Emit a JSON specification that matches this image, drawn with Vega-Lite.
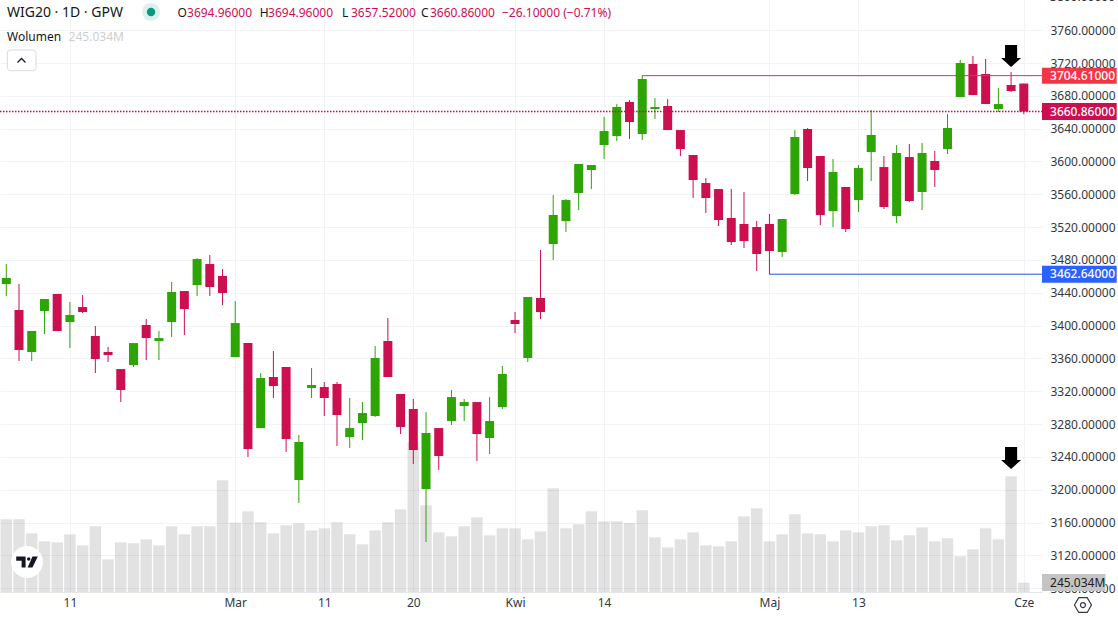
{"$schema":"https://vega.github.io/schema/vega-lite/v6.json","width":1042,"height":592,"autosize":{"type":"none"},"padding":{"left":0,"top":0,"right":76,"bottom":26},"background":"#ffffff","config":{"view":{"stroke":null},"font":"Noto Sans"},
"datasets":{"candles":[
{"bar":0,"o":3450.6,"h":3475.0,"l":3436.0,"c":3458.0,"v":1895,"dir":"up"},
{"bar":1,"o":3419.0,"h":3450.6,"l":3356.8,"c":3370.2,"v":1895,"dir":"down"},
{"bar":2,"o":3367.8,"h":3393.4,"l":3356.8,"c":3393.4,"v":1530,"dir":"up"},
{"bar":3,"o":3417.7,"h":3432.4,"l":3389.7,"c":3432.4,"v":1322,"dir":"up"},
{"bar":4,"o":3438.5,"h":3438.5,"l":3393.4,"c":3393.4,"v":1296,"dir":"down"},
{"bar":5,"o":3404.3,"h":3428.7,"l":3372.6,"c":3412.9,"v":1504,"dir":"up"},
{"bar":6,"o":3422.6,"h":3437.2,"l":3415.3,"c":3416.5,"v":1217,"dir":"down"},
{"bar":7,"o":3387.3,"h":3399.5,"l":3342.2,"c":3359.2,"v":1713,"dir":"down"},
{"bar":8,"o":3367.8,"h":3373.9,"l":3355.6,"c":3364.1,"v":852,"dir":"down"},
{"bar":9,"o":3347.0,"h":3347.0,"l":3306.8,"c":3321.5,"v":1296,"dir":"down"},
{"bar":10,"o":3351.9,"h":3378.7,"l":3349.5,"c":3378.7,"v":1270,"dir":"up"},
{"bar":11,"o":3400.7,"h":3408.0,"l":3358.0,"c":3384.8,"v":1374,"dir":"down"},
{"bar":12,"o":3381.2,"h":3393.4,"l":3358.0,"c":3384.8,"v":1217,"dir":"up"},
{"bar":13,"o":3404.3,"h":3453.1,"l":3386.0,"c":3440.9,"v":1713,"dir":"up"},
{"bar":14,"o":3442.1,"h":3442.1,"l":3388.5,"c":3420.2,"v":1504,"dir":"down"},
{"bar":15,"o":3449.4,"h":3482.3,"l":3436.0,"c":3481.1,"v":1713,"dir":"up"},
{"bar":16,"o":3475.0,"h":3486.0,"l":3436.0,"c":3447.0,"v":1713,"dir":"down"},
{"bar":17,"o":3460.4,"h":3468.9,"l":3425.0,"c":3439.7,"v":2912,"dir":"down"},
{"bar":18,"o":3361.7,"h":3429.9,"l":3361.7,"c":3403.1,"v":1809,"dir":"up"},
{"bar":19,"o":3378.7,"h":3378.7,"l":3239.8,"c":3249.5,"v":2104,"dir":"down"},
{"bar":20,"o":3275.1,"h":3342.2,"l":3275.1,"c":3336.1,"v":1817,"dir":"up"},
{"bar":21,"o":3337.3,"h":3369.0,"l":3311.7,"c":3326.3,"v":1530,"dir":"down"},
{"bar":22,"o":3349.5,"h":3349.5,"l":3245.9,"c":3261.7,"v":1739,"dir":"down"},
{"bar":23,"o":3211.8,"h":3266.6,"l":3183.7,"c":3258.1,"v":1791,"dir":"up"},
{"bar":24,"o":3323.9,"h":3348.3,"l":3311.7,"c":3327.6,"v":1608,"dir":"up"},
{"bar":25,"o":3325.1,"h":3331.2,"l":3289.8,"c":3311.7,"v":1661,"dir":"down"},
{"bar":26,"o":3328.8,"h":3331.2,"l":3253.2,"c":3291.0,"v":1817,"dir":"down"},
{"bar":27,"o":3264.2,"h":3311.7,"l":3250.8,"c":3275.1,"v":1504,"dir":"up"},
{"bar":28,"o":3281.2,"h":3306.8,"l":3260.5,"c":3293.4,"v":1244,"dir":"up"},
{"bar":29,"o":3289.8,"h":3375.1,"l":3288.6,"c":3360.5,"v":1608,"dir":"up"},
{"bar":30,"o":3381.2,"h":3409.2,"l":3337.3,"c":3337.3,"v":1817,"dir":"down"},
{"bar":31,"o":3316.6,"h":3316.6,"l":3267.8,"c":3276.4,"v":2156,"dir":"down"},
{"bar":32,"o":3298.3,"h":3310.5,"l":3231.3,"c":3248.3,"v":3910,"dir":"down"},
{"bar":33,"o":3200.8,"h":3294.6,"l":3136.2,"c":3269.1,"v":2260,"dir":"up"},
{"bar":34,"o":3275.1,"h":3275.1,"l":3224.0,"c":3241.0,"v":1556,"dir":"down"},
{"bar":35,"o":3283.7,"h":3321.5,"l":3278.8,"c":3312.9,"v":1452,"dir":"up"},
{"bar":36,"o":3302.0,"h":3310.5,"l":3283.7,"c":3306.8,"v":1713,"dir":"up"},
{"bar":37,"o":3306.8,"h":3306.8,"l":3234.9,"c":3267.8,"v":1947,"dir":"down"},
{"bar":38,"o":3263.0,"h":3312.9,"l":3243.5,"c":3283.7,"v":1478,"dir":"up"},
{"bar":39,"o":3300.7,"h":3350.7,"l":3298.3,"c":3341.0,"v":1661,"dir":"up"},
{"bar":40,"o":3406.8,"h":3416.5,"l":3390.9,"c":3401.9,"v":1661,"dir":"down"},
{"bar":41,"o":3360.5,"h":3434.8,"l":3355.6,"c":3434.8,"v":1374,"dir":"up"},
{"bar":42,"o":3433.6,"h":3492.1,"l":3408.0,"c":3416.5,"v":1582,"dir":"down"},
{"bar":43,"o":3499.4,"h":3559.1,"l":3479.9,"c":3534.8,"v":2703,"dir":"up"},
{"bar":44,"o":3527.4,"h":3554.3,"l":3514.0,"c":3553.0,"v":1661,"dir":"up"},
{"bar":45,"o":3561.6,"h":3596.9,"l":3540.8,"c":3596.9,"v":1765,"dir":"up"},
{"bar":46,"o":3589.6,"h":3595.7,"l":3566.4,"c":3595.7,"v":2104,"dir":"up"},
{"bar":47,"o":3620.1,"h":3654.2,"l":3603.0,"c":3637.1,"v":1843,"dir":"up"},
{"bar":48,"o":3631.0,"h":3670.0,"l":3624.9,"c":3666.4,"v":1843,"dir":"up"},
{"bar":49,"o":3672.5,"h":3674.9,"l":3627.4,"c":3648.1,"v":1799,"dir":"down"},
{"bar":50,"o":3633.5,"h":3704.61,"l":3626.2,"c":3700.5,"v":2130,"dir":"up"},
{"bar":51,"o":3663.9,"h":3677.3,"l":3651.8,"c":3666.4,"v":1426,"dir":"up"},
{"bar":52,"o":3667.6,"h":3676.1,"l":3638.3,"c":3638.3,"v":1165,"dir":"down"},
{"bar":53,"o":3638.3,"h":3638.3,"l":3606.7,"c":3615.2,"v":1374,"dir":"down"},
{"bar":54,"o":3607.9,"h":3607.9,"l":3555.5,"c":3577.4,"v":1556,"dir":"down"},
{"bar":55,"o":3573.8,"h":3579.8,"l":3537.2,"c":3555.5,"v":1217,"dir":"down"},
{"bar":56,"o":3566.4,"h":3566.4,"l":3521.3,"c":3528.7,"v":1191,"dir":"down"},
{"bar":57,"o":3531.1,"h":3566.4,"l":3498.2,"c":3501.8,"v":1322,"dir":"down"},
{"bar":58,"o":3523.8,"h":3562.8,"l":3494.5,"c":3503.1,"v":1973,"dir":"down"},
{"bar":59,"o":3520.1,"h":3527.4,"l":3466.5,"c":3487.2,"v":2182,"dir":"down"},
{"bar":60,"o":3523.8,"h":3536.0,"l":3462.64,"c":3490.9,"v":1322,"dir":"down"},
{"bar":61,"o":3489.7,"h":3529.9,"l":3483.6,"c":3529.9,"v":1504,"dir":"up"},
{"bar":62,"o":3560.3,"h":3638.3,"l":3559.1,"c":3629.8,"v":2026,"dir":"up"},
{"bar":63,"o":3639.6,"h":3640.8,"l":3576.2,"c":3592.0,"v":1530,"dir":"down"},
{"bar":64,"o":3606.7,"h":3606.7,"l":3522.6,"c":3534.7,"v":1504,"dir":"down"},
{"bar":65,"o":3539.6,"h":3603.0,"l":3520.1,"c":3587.2,"v":1322,"dir":"up"},
{"bar":66,"o":3568.9,"h":3568.9,"l":3514.0,"c":3517.7,"v":1608,"dir":"down"},
{"bar":67,"o":3553.0,"h":3595.7,"l":3538.4,"c":3592.0,"v":1556,"dir":"up"},
{"bar":68,"o":3611.5,"h":3662.7,"l":3576.2,"c":3632.3,"v":1713,"dir":"up"},
{"bar":69,"o":3593.2,"h":3606.7,"l":3542.1,"c":3544.5,"v":1739,"dir":"down"},
{"bar":70,"o":3533.5,"h":3620.1,"l":3525.0,"c":3610.3,"v":1348,"dir":"up"},
{"bar":71,"o":3605.4,"h":3621.3,"l":3550.6,"c":3551.8,"v":1478,"dir":"down"},
{"bar":72,"o":3562.8,"h":3622.5,"l":3540.8,"c":3610.3,"v":1687,"dir":"up"},
{"bar":73,"o":3600.6,"h":3612.8,"l":3568.9,"c":3589.6,"v":1322,"dir":"down"},
{"bar":74,"o":3615.2,"h":3657.8,"l":3609.1,"c":3640.8,"v":1400,"dir":"up"},
{"bar":75,"o":3678.6,"h":3723.7,"l":3678.6,"c":3720.0,"v":931,"dir":"up"},
{"bar":76,"o":3718.8,"h":3728.5,"l":3681.0,"c":3681.0,"v":1113,"dir":"down"},
{"bar":77,"o":3706.6,"h":3724.9,"l":3670.0,"c":3670.0,"v":1661,"dir":"down"},
{"bar":78,"o":3663.9,"h":3689.5,"l":3660.3,"c":3670.0,"v":1374,"dir":"up"},
{"bar":79,"o":3693.2,"h":3709.0,"l":3684.7,"c":3685.9,"v":3016,"dir":"down"},
{"bar":80,"o":3694.96,"h":3694.96,"l":3657.52,"c":3660.86,"v":245.034,"dir":"down"}
]},
"resolve":{"scale":{"y":"independent"}},
"layer":[
{"layer":[
{"data":{"name":"candles"},"mark":{"type":"bar","orient":"vertical","size":11.5,"fill":"#000000","fillOpacity":0.115},
 "encoding":{"x":{"field":"bar","type":"quantitative","scale":{"domain":[-0.495,81.43],"nice":false,"zero":false,"padding":0},
   "axis":{"orient":"bottom","title":null,"values":[5,18,25,32,40,47,60,67,80],"tickCount":30,"labelExpr":"{'5':'11','18':'Mar','25':'11','32':'20','40':'Kwi','47':'14','60':'Maj','67':'13','80':'Cze'}[datum.value]","labelOverlap":false,"labelBound":false,"labelFlush":false,"grid":true,"gridColor":"#f2f3f6","gridWidth":1,"ticks":false,"domain":true,"domainColor":"#e4e6ec","labelColor":"#333842","labelFont":"Noto Sans","labelFontSize":12,"labelPadding":5}},
  "y":{"field":"v","type":"quantitative","scale":{"domain":[0,15433],"nice":false,"zero":false},"axis":null},
  "y2":{"datum":0}}},
{"data":{"values":[{"label":"245.034M","vol":245.034}]},"mark":{"type":"rule","strokeWidth":17,"color":"#c4c4c4","strokeCap":"butt"},
 "encoding":{"x":{"datum":81.43,"type":"quantitative"},"x2":{"datum":86.42},"y":{"field":"vol","type":"quantitative"}}},
{"data":{"values":[{"label":"245.034M","vol":245.034}]},"mark":{"type":"text","align":"left","baseline":"middle","font":"Noto Sans","fontSize":12,"color":"#222222"},
 "encoding":{"x":{"datum":82.06,"type":"quantitative"},"y":{"field":"vol","type":"quantitative"},"text":{"field":"label"}}}
]},
{"layer":[
{"data":{"name":"candles"},"mark":{"type":"rule","strokeWidth":1},
 "encoding":{"x":{"field":"bar","type":"quantitative"},
  "y":{"field":"l","type":"quantitative","scale":{"domain":[3075.3,3796.8],"nice":false,"zero":false},
   "axis":{"orient":"right","title":null,"values":[3080,3120,3160,3200,3240,3280,3320,3360,3400,3440,3480,3520,3560,3600,3640,3680,3720,3760],"tickCount":40,"format":".5f","grid":true,"gridColor":"#f2f3f6","gridWidth":1,"ticks":false,"domain":false,"labelColor":"#333842","labelFont":"Noto Sans","labelFontSize":12,"labelPadding":8,"labelOverlap":false,"labelBound":false,"labelFlush":false}},
  "y2":{"field":"h"},
  "color":{"field":"dir","type":"nominal","scale":{"domain":["up","down"],"range":["#2da505","#cc0f4f"]},"legend":null}}},
{"data":{"name":"candles"},"mark":{"type":"bar","orient":"vertical","size":9},
 "encoding":{"x":{"field":"bar","type":"quantitative"},"y":{"field":"o","type":"quantitative"},"y2":{"field":"c"},
  "color":{"field":"dir","type":"nominal","legend":null}}},
{"data":{"values":[{"t":"3800.00000"}]},"mark":{"type":"text","align":"left","baseline":"middle","font":"Noto Sans","fontSize":12,"color":"#333842"},
 "encoding":{"x":{"datum":82.06,"type":"quantitative"},"y":{"datum":3800,"type":"quantitative"},"text":{"field":"t"}}},
{"data":{"values":[{"price":3704.61,"from":50,"label":"3704.61000"}]},"mark":{"type":"rule","strokeWidth":1,"color":"#e8303f"},
 "encoding":{"x":{"field":"from","type":"quantitative"},"x2":{"datum":81.43},"y":{"field":"price","type":"quantitative"}}},
{"data":{"values":[{"price":3462.64,"from":60,"label":"3462.64000"}]},"mark":{"type":"rule","strokeWidth":1,"color":"#2054e0"},
 "encoding":{"x":{"field":"from","type":"quantitative"},"x2":{"datum":81.43},"y":{"field":"price","type":"quantitative"}}},
{"data":{"values":[{"price":3660.86,"from":-0.495,"label":"3660.86000"}]},"mark":{"type":"rule","strokeWidth":1.4,"color":"#d8004f","strokeDash":[1.5,1.5]},
 "encoding":{"x":{"field":"from","type":"quantitative"},"x2":{"datum":81.43},"y":{"field":"price","type":"quantitative"}}},
{"data":{"values":[{"price":3704.61,"label":"3704.61000"}]},"mark":{"type":"rule","strokeWidth":16,"color":"#f23645","strokeCap":"butt"},
 "encoding":{"x":{"datum":81.43,"type":"quantitative"},"x2":{"datum":87.3},"y":{"field":"price","type":"quantitative"}}},
{"data":{"values":[{"price":3660.86,"label":"3660.86000"}]},"mark":{"type":"rule","strokeWidth":17,"color":"#cc0f4f","strokeCap":"butt"},
 "encoding":{"x":{"datum":81.43,"type":"quantitative"},"x2":{"datum":87.3},"y":{"field":"price","type":"quantitative"}}},
{"data":{"values":[{"price":3462.64,"label":"3462.64000"}]},"mark":{"type":"rule","strokeWidth":17,"color":"#2962ff","strokeCap":"butt"},
 "encoding":{"x":{"datum":81.43,"type":"quantitative"},"x2":{"datum":87.3},"y":{"field":"price","type":"quantitative"}}},
{"data":{"values":[{"price":3704.61,"label":"3704.61000"},{"price":3660.86,"label":"3660.86000"},{"price":3462.64,"label":"3462.64000"}]},"mark":{"type":"text","align":"left","baseline":"middle","font":"Noto Sans","fontSize":12,"fontWeight":500,"color":"#ffffff"},
 "encoding":{"x":{"datum":82.06,"type":"quantitative"},"y":{"field":"price","type":"quantitative"},"text":{"field":"label"}}},
{"data":{"values":[{"bar":79,"price":3728.5},{"bar":79,"price":3238.6}]},"mark":{"type":"point","shape":"M-0.55,-1H0.55V0.18H0.91L0,1L-0.91,0.18H-0.55Z","size":484,"filled":true,"fill":"#000000","opacity":1},
 "encoding":{"x":{"field":"bar","type":"quantitative"},"y":{"field":"price","type":"quantitative"}}},
{"data":{"values":[{"m":"logo"}]},"mark":{"type":"point","shape":"circle","size":1024,"filled":true,"fill":"#ffffff","opacity":1},
 "encoding":{"x":{"datum":1.63,"type":"quantitative"},"y":{"datum":3111.8,"type":"quantitative"}}},
{"data":{"values":[{"m":"logo"}]},"mark":{"type":"point","shape":"M-0.9,-0.46H-0.12V0.46H-0.45V-0.1H-0.9ZM0.45,-0.46H0.9L0.45,0.46H0.05ZM0.28,-0.25A0.14,0.14 0 1 1 0,-0.25A0.14,0.14 0 1 1 0.28,-0.25Z","size":576,"filled":true,"fill":"#131722","opacity":1},
 "encoding":{"x":{"datum":1.63,"type":"quantitative"},"y":{"datum":3111.8,"type":"quantitative"}}},
{"data":{"values":[{"m":"button"}]},"mark":{"type":"rect","fill":"#ffffff","stroke":"#d8dae0","strokeWidth":1,"cornerRadius":3},
 "encoding":{"x":{"datum":0.079,"type":"quantitative"},"x2":{"datum":2.335},"y":{"datum":3735.9,"type":"quantitative"},"y2":{"datum":3710.6}}},
{"data":{"values":[{"m":"button"}]},"mark":{"type":"point","shape":"M-1,0.5L0,-0.5L1,0.5","size":64,"filled":false,"stroke":"#131722","strokeWidth":1.2,"opacity":1},
 "encoding":{"x":{"datum":1.195,"type":"quantitative"},"y":{"datum":3723.1,"type":"quantitative"}}},
{"data":{"values":[{"m":"status"}]},"mark":{"type":"point","shape":"circle","size":324,"filled":true,"fill":"#089981","opacity":0.14},
 "encoding":{"x":{"datum":11.38,"type":"quantitative"},"y":{"datum":3782.2,"type":"quantitative"}}},
{"data":{"values":[{"m":"status"}]},"mark":{"type":"point","shape":"circle","size":70,"filled":true,"fill":"#089981","opacity":1},
 "encoding":{"x":{"datum":11.38,"type":"quantitative"},"y":{"datum":3782.2,"type":"quantitative"}}},
{"data":{"values":[{"m":"gear"}]},"mark":{"type":"point","shape":"M-1,0L-0.5,-0.87L0.5,-0.87L1,0L0.5,0.87L-0.5,0.87Z","size":289,"filled":false,"stroke":"#333842","strokeWidth":1.2,"opacity":1},
 "encoding":{"x":{"datum":84.65,"type":"quantitative"},"y":{"datum":3059.4,"type":"quantitative"}}},
{"data":{"values":[{"m":"gear"}]},"mark":{"type":"point","shape":"circle","size":25,"filled":false,"stroke":"#333842","strokeWidth":1.2,"opacity":1},
 "encoding":{"x":{"datum":84.65,"type":"quantitative"},"y":{"datum":3059.4,"type":"quantitative"}}},
{"data":{"values":[{"t":"WIG20 · 1D · GPW"}]},"mark":{"type":"text","align":"left","baseline":"middle","font":"Noto Sans","fontSize":14,"color":"#131722"},
 "encoding":{"x":{"datum":0.055,"type":"quantitative"},"y":{"datum":3781,"type":"quantitative"},"text":{"field":"t"}}},
{"data":{"values":[{"t":"Wolumen"}]},"mark":{"type":"text","align":"left","baseline":"middle","font":"Noto Sans","fontSize":12,"color":"#131722"},
 "encoding":{"x":{"datum":0.055,"type":"quantitative"},"y":{"datum":3752.1,"type":"quantitative"},"text":{"field":"t"}}},
{"data":{"values":[{"t":"245.034M"}]},"mark":{"type":"text","align":"left","baseline":"middle","font":"Noto Sans","fontSize":12,"color":"#cfcfcf"},
 "encoding":{"x":{"datum":4.9,"type":"quantitative"},"y":{"datum":3752.1,"type":"quantitative"},"text":{"field":"t"}}},
{"data":{"values":[{"t":"O"}]},"mark":{"type":"text","align":"left","baseline":"middle","font":"Noto Sans","fontSize":12,"color":"#131722"},
 "encoding":{"x":{"datum":13.46,"type":"quantitative"},"y":{"datum":3781,"type":"quantitative"},"text":{"field":"t"}}},
{"data":{"values":[{"t":"3694.96000"}]},"mark":{"type":"text","align":"left","baseline":"middle","font":"Noto Sans","fontSize":12,"color":"#cc0f4f"},
 "encoding":{"x":{"datum":14.21,"type":"quantitative"},"y":{"datum":3781,"type":"quantitative"},"text":{"field":"t"}}},
{"data":{"values":[{"t":"H"}]},"mark":{"type":"text","align":"left","baseline":"middle","font":"Noto Sans","fontSize":12,"color":"#131722"},
 "encoding":{"x":{"datum":19.92,"type":"quantitative"},"y":{"datum":3781,"type":"quantitative"},"text":{"field":"t"}}},
{"data":{"values":[{"t":"3694.96000"}]},"mark":{"type":"text","align":"left","baseline":"middle","font":"Noto Sans","fontSize":12,"color":"#cc0f4f"},
 "encoding":{"x":{"datum":20.58,"type":"quantitative"},"y":{"datum":3781,"type":"quantitative"},"text":{"field":"t"}}},
{"data":{"values":[{"t":"L"}]},"mark":{"type":"text","align":"left","baseline":"middle","font":"Noto Sans","fontSize":12,"color":"#131722"},
 "encoding":{"x":{"datum":26.4,"type":"quantitative"},"y":{"datum":3781,"type":"quantitative"},"text":{"field":"t"}}},
{"data":{"values":[{"t":"3657.52000"}]},"mark":{"type":"text","align":"left","baseline":"middle","font":"Noto Sans","fontSize":12,"color":"#cc0f4f"},
 "encoding":{"x":{"datum":27.1,"type":"quantitative"},"y":{"datum":3781,"type":"quantitative"},"text":{"field":"t"}}},
{"data":{"values":[{"t":"C"}]},"mark":{"type":"text","align":"left","baseline":"middle","font":"Noto Sans","fontSize":12,"color":"#131722"},
 "encoding":{"x":{"datum":32.6,"type":"quantitative"},"y":{"datum":3781,"type":"quantitative"},"text":{"field":"t"}}},
{"data":{"values":[{"t":"3660.86000"}]},"mark":{"type":"text","align":"left","baseline":"middle","font":"Noto Sans","fontSize":12,"color":"#cc0f4f"},
 "encoding":{"x":{"datum":33.31,"type":"quantitative"},"y":{"datum":3781,"type":"quantitative"},"text":{"field":"t"}}},
{"data":{"values":[{"t":"−26.10000 (−0.71%)"}]},"mark":{"type":"text","align":"left","baseline":"middle","font":"Noto Sans","fontSize":12,"color":"#cc0f4f"},
 "encoding":{"x":{"datum":38.97,"type":"quantitative"},"y":{"datum":3781,"type":"quantitative"},"text":{"field":"t"}}}
]}
]}
